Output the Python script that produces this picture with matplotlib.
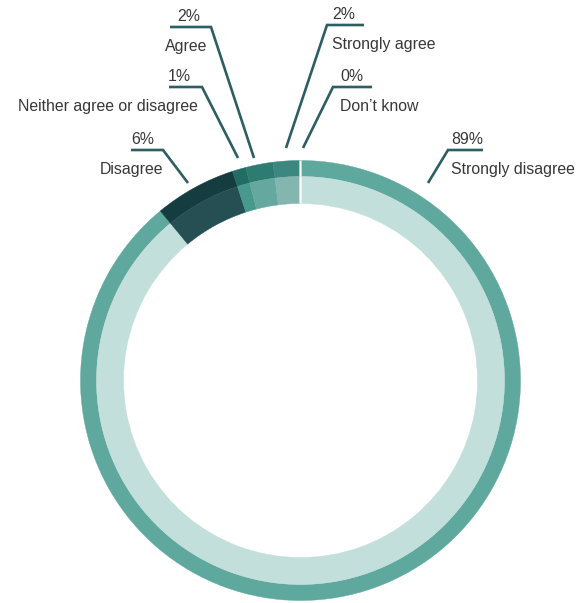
import matplotlib
matplotlib.use('Agg')
import matplotlib.pyplot as plt

# ---- data ----
categories = ['Strongly disagree', 'Disagree', 'Neither agree or disagree',
              'Agree', 'Strongly agree', 'Don\u2019t know']
values = [89, 6, 1, 2, 2, 0]

outer_colors = ['#5ea89e', '#153d3f', '#216d65', '#2e7b72', '#3c877f', '#ffffff']
inner_colors = ['#c3dfdb', '#254f53', '#47988d', '#64a8a0', '#84b6b0', '#ffffff']

# ---- layout (pixel coords, origin top-left) ----
W, H = 576, 603
CX, CY = 300.5, 380.5
R_OUT, W_OUT = 220, 16
R_IN, W_IN = 204, 27
# anchor (near ring), elbow, end of horizontal, side, text x
layout = {
    'Strongly disagree':        dict(anchor=(428, 183), elbow=(448, 150), hend=483, side='right', tx=451),
    'Disagree':                 dict(anchor=(188, 183), elbow=(163, 150), hend=131, side='left', tx=131, lx=163),
    'Neither agree or disagree': dict(anchor=(238, 158), elbow=(202, 87), hend=169, side='left', tx=168, lx=198),
    'Agree':                    dict(anchor=(254, 158), elbow=(211, 27), hend=170, side='left', tx=177, lx=207),
    'Strongly agree':           dict(anchor=(286, 148), elbow=(327, 25), hend=364, side='right', tx=332),
    'Don\u2019t know':          dict(anchor=(303, 148), elbow=(333, 87), hend=372, side='right', tx=340),
}

LINE_COLOR = '#2d5e62'
TEXT_COLOR = '#383838'
FONT = ['Liberation Sans', 'DejaVu Sans']
FS = 11.4

fig = plt.figure(figsize=(W / 100, H / 100), dpi=100)
ax = fig.add_axes([0, 0, 1, 1])

wo, _ = ax.pie(values, radius=R_OUT, center=(CX, H - CY), startangle=90,
               counterclock=False, colors=outer_colors,
               wedgeprops=dict(width=W_OUT, linewidth=0))
wi, _ = ax.pie(values, radius=R_IN, center=(CX, H - CY), startangle=90,
               counterclock=False, colors=inner_colors,
               wedgeprops=dict(width=W_IN, linewidth=0))
for w in list(wo) + list(wi):
    w.set_edgecolor(w.get_facecolor())
    w.set_linewidth(0.3)
for w in (wo[-1], wi[-1]):
    w.set_edgecolor('white')
    w.set_linewidth(1.6)
    w.set_zorder(3)

ax.set_xlim(0, W)
ax.set_ylim(0, H)
ax.set_aspect('equal')
ax.axis('off')

for cat, val in zip(categories, values):
    L = layout[cat]
    ax_, ay = L['anchor']
    ex, ey = L['elbow']
    ax.plot([ax_, ex, L['hend']], [H - ay, H - ey, H - ey], color=LINE_COLOR,
            lw=1.9, solid_capstyle='butt', solid_joinstyle='miter', zorder=4)
    ax.text(L['tx'], H - ey + 6, f'{val}%', ha='left', va='baseline',
            fontsize=FS, color=TEXT_COLOR, family=FONT)
    if L['side'] == 'left':
        ax.text(L['lx'], H - ey - 24, cat, ha='right', va='baseline',
                fontsize=FS, color=TEXT_COLOR, family=FONT)
    else:
        ax.text(L['tx'], H - ey - 24, cat, ha='left', va='baseline',
                fontsize=FS, color=TEXT_COLOR, family=FONT)

fig.savefig('out.png', dpi=100)
